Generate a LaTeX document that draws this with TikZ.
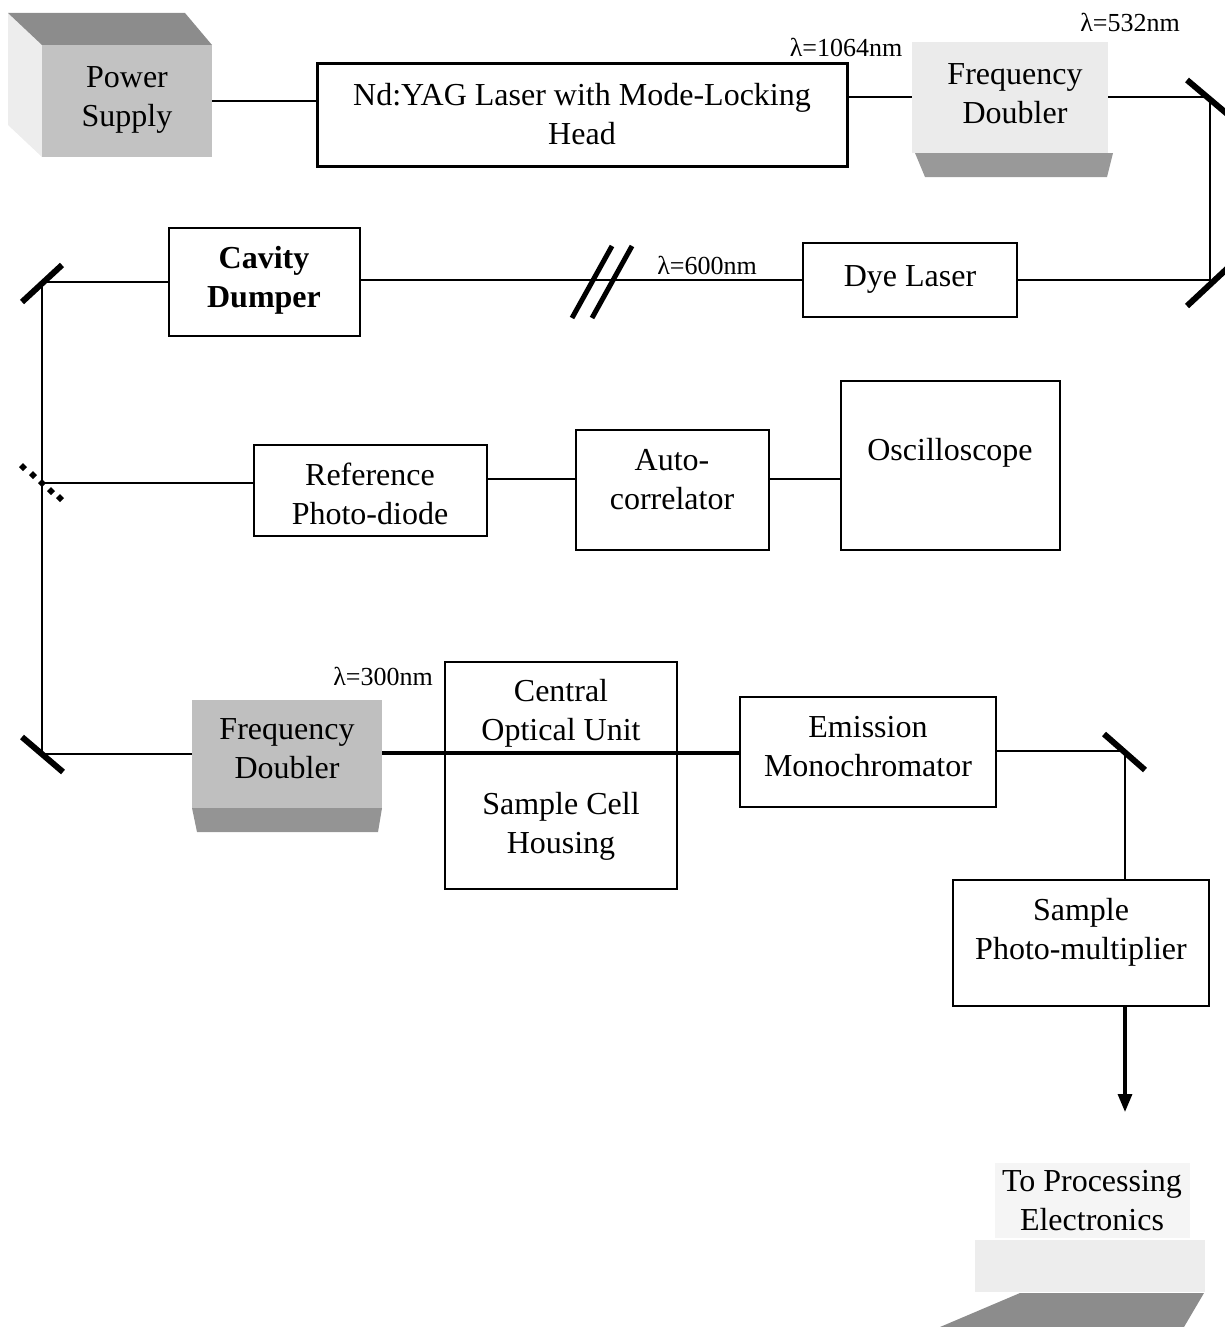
\documentclass[tikz,border=0pt]{standalone}
\usepackage{fontspec}
\setmainfont{Liberation Serif}
\usetikzlibrary{fit,arrows.meta}
\newcommand\bigf{\fontsize{16}{19.5}\selectfont}
\newcommand\smallf{\fontsize{13}{15}\selectfont}
\begin{document}
\begin{tikzpicture}[x=0.5pt,y=-0.5pt,
  every node/.style={font=\bigf, align=center, inner sep=0pt},
  box/.style={draw, line width=0.9pt, inner sep=0pt},
  beam/.style={line width=1pt},
  thickbeam/.style={line width=1.6pt},
  mirror/.style={line width=3pt},
  lam/.style={font=\smallf}]
\useasboundingbox (0,0) rectangle (1225,1327);

% ---- Power supply (shaded block)
\fill[black!7] (8,13) -- (42,45) -- (42,157) -- (8,125) -- cycle;
\fill[black!45] (8,13) -- (185,13) -- (212,45) -- (42,45) -- cycle;
\node[fill=black!24, fit={(42,45)(212,157)}] (power) {};
\node at (127,100) (powert) {Power\\Supply};

% ---- Laser
\node[box, line width=1.5pt, fit={(317,64)(847,166)}] (laser) {};
\node at (582,114) (lasert) {Nd:YAG Laser with Mode-Locking\\Head};

% ---- Frequency doubler (top)
\fill[black!40] (915,153) -- (1113,153) -- (1107,177) -- (925,177) -- cycle;
\node[fill=black!8, fit={(912,42)(1108,153)}] (fd1) {};
\node at (1015,94) (fd1t) {Frequency\\Doubler};

% ---- Cavity dumper, dye laser
\node[box, fit={(169,228)(360,336)}] (cavity) {};
\node[font=\bigf\bfseries] at (264,280) (cavityt) {Cavity\\Dumper};
\node[box, fit={(803,243)(1017,317)}] (dye) {};
\node at (910,279) (dyet) {Dye Laser};

% ---- Middle row
\node[box, fit={(254,445)(487,536)}] (ref) {};
\node at (370,494) (reft) {Reference\\Photo-diode};
\node[box, fit={(576,430)(769,550)}] (auto) {};
\node at (672,480) (autot) {Auto-\\correlator};
\node[box, fit={(841,381)(1060,550)}] (osc) {};
\node at (950,453) (osct) {Oscilloscope};

% ---- Bottom row
\fill[black!42] (192,808) -- (382,808) -- (378,832) -- (197,832) -- cycle;
\node[fill=black!25, fit={(192,700)(382,808)}] (fd2) {};
\node at (287,749) (fd2t) {Frequency\\Doubler};
\node[box, fit={(445,662)(677,889)}] (cou) {};
\node at (561,713) (cout) {Central\\Optical Unit};
\node at (561,826) (scht) {Sample Cell\\Housing};
\node[box, fit={(740,697)(996,807)}] (emis) {};
\node at (868,747) (emist) {Emission\\Monochromator};
\node[box, fit={(953,880)(1209,1006)}] (pmt) {};
\node at (1081,932) (pmtt) {Sample\\Photo-multiplier};

% ---- To processing electronics
\fill[black!4] (995,1163) rectangle (1190,1238);
\fill[black!7] (975,1240) rectangle (1205,1292);
\fill[black!45] (1020,1293) -- (1204,1293) -- (1184,1327) -- (940,1327) -- cycle;
\node at (1092,1201) (tpe) {To Processing\\Electronics};

% ---- Wavelength labels
\node[lam] at (1130,22) (l532) {λ=532nm};
\node[lam] at (846,47) (l1064) {λ=1064nm};
\node[lam] at (707,265) (l600) {λ=600nm};
\node[lam] at (383,676) (l300) {λ=300nm};

% ---- Mirror / junction coordinates
\coordinate (m1) at (1210,99);
\coordinate (m2) at (1210,280);
\coordinate (m3) at (42,282);
\coordinate (bs) at (42,483);
\coordinate (m4) at (42,754);
\coordinate (m5) at (1125,751);
\coordinate (yrow) at (0,479);
\coordinate (out) at (1125,1112);

% ---- Beams
\draw[beam] (power.east) -- (power.east -| laser.west);
\draw[beam] (fd1.west -| laser.east) -- (fd1.west);
\draw[beam] (fd1.east) -- (fd1.east -| m1) -- (m2) -- (m2 -| dye.east);
\draw[beam] (dye.west) -- (dye.west -| cavity.east);
\draw[beam] (cavity.west) -- (m3) -- (bs) -- (m4) -- (m4 -| fd2.west);
\draw[beam] (bs) -- (bs -| ref.west);
\draw[beam] (ref.east |- yrow) -- (auto.west |- yrow);
\draw[beam] (auto.east |- yrow) -- (osc.west |- yrow);
\draw[thickbeam] (fd2.east |- m5) ++(0,2) coordinate (c1) -- (c1 -| emis.west);
\draw[beam] (emis.east |- m5) -- (m5) -- (m5 |- pmt.north);
\draw[line width=1.6pt, -{Triangle[length=9pt,width=7pt]}] (pmt.south -| m5) -- (out);

% ---- Mirrors
\draw[mirror] (m1) ++(-23,-19) -- ++(45,38);
\draw[mirror] (m2) ++(-23,26) -- ++(45,-42);
\draw[mirror] (m3) ++(-20,20) -- ++(40,-37);
\draw[mirror] (m4) ++(-20,-17) -- ++(41,35);
\draw[mirror] (m5) ++(-21,-17) -- ++(41,36);
\foreach \p in {(23,467),(33,475),(42,483),(51,491),(60,498)}
  \fill \p +(-4,0) -- +(0,-4) -- +(4,0) -- +(0,4) -- cycle;

% ---- Break mark on the dye beam
\draw[line width=2.5pt] (572,318) -- (612,246);
\draw[line width=2.5pt] (592,318) -- (632,246);
\end{tikzpicture}
\end{document}
